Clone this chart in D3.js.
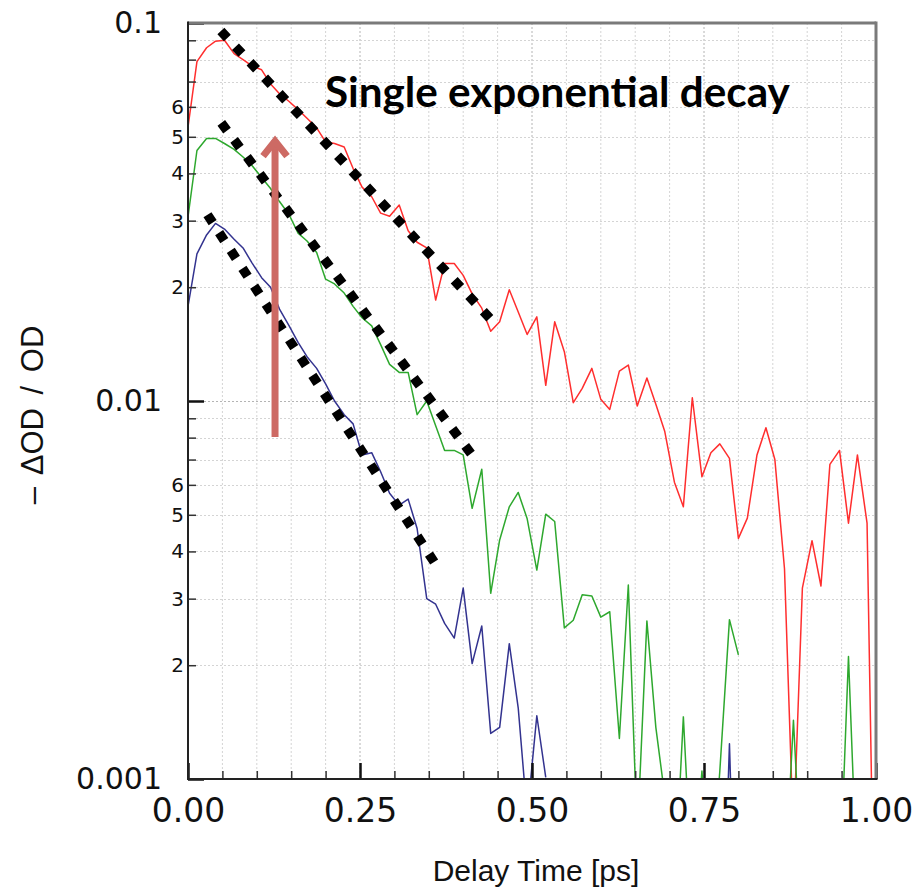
<!DOCTYPE html>
<html>
<head>
<meta charset="utf-8">
<script src="https://cdn.jsdelivr.net/npm/d3@7"></script>
<style>
  body { margin: 0; background: #ffffff; }
  svg { display: block; }
</style>
</head>
<body>
<svg id="chart" width="918" height="894"></svg>
<script>
// ---------------- data ----------------
const delayTimes = [
  0.000, 0.013, 0.027, 0.040, 0.053, 0.067, 0.080, 0.093, 0.107, 0.120,
  0.133, 0.147, 0.160, 0.173, 0.187, 0.200, 0.213, 0.227, 0.240, 0.253,
  0.267, 0.280, 0.293, 0.307, 0.320, 0.333, 0.347, 0.360, 0.373, 0.387,
  0.400, 0.413, 0.427, 0.440, 0.453, 0.467, 0.480, 0.493, 0.507, 0.520,
  0.533, 0.547, 0.560, 0.573, 0.587, 0.600, 0.613, 0.627, 0.640, 0.653,
  0.667, 0.680, 0.693, 0.707, 0.720, 0.733, 0.747, 0.760, 0.773, 0.787,
  0.800, 0.813, 0.827, 0.840, 0.853, 0.867, 0.880, 0.893, 0.907, 0.920,
  0.933, 0.947, 0.960, 0.973, 0.987, 1.000
];

const redSeries = [
  0.053, 0.079, 0.086, 0.0895, 0.090, 0.083, 0.080, 0.077, 0.0752, 0.069,
  0.065, 0.062, 0.059, 0.056, 0.0528, 0.0485, 0.048, 0.047, 0.0412, 0.0368,
  0.0347, 0.0314, 0.0308, 0.033, 0.0282, 0.0263, 0.0254, 0.0185, 0.0231, 0.0231,
  0.0215, 0.0192, 0.0176, 0.0153, 0.0162, 0.0197, 0.0172, 0.0150, 0.0167, 0.0110,
  0.0162, 0.0135, 0.0099, 0.0108, 0.0122, 0.0101, 0.0095, 0.0120, 0.01245, 0.0097,
  0.0115, 0.0098, 0.0083, 0.0061, 0.00525, 0.0102, 0.0063, 0.0073, 0.0077, 0.00705,
  0.00433, 0.0049, 0.0072, 0.0085, 0.0070, 0.0036, 0.0007, 0.0032, 0.00427, 0.00324,
  0.0068, 0.0074, 0.00475, 0.0072, 0.00475, 0.0002
];

const greenSeries = [
  0.0307, 0.046, 0.0495, 0.0495, 0.048, 0.0463, 0.0442, 0.042, 0.039, 0.0365,
  0.0337, 0.0311, 0.0278, 0.0265, 0.0247, 0.0210, 0.0204, 0.0193, 0.0178, 0.0166,
  0.0158, 0.0141, 0.0125, 0.0119, 0.0119, 0.0092, 0.0100, 0.0086, 0.0074, 0.0074,
  0.0072, 0.0052, 0.0066, 0.0031, 0.00429, 0.00525, 0.00573, 0.00488, 0.00357, 0.00502,
  0.0048, 0.00251, 0.00263, 0.00307, 0.00305, 0.00268, 0.00277, 0.00128, 0.00326, 0.0007,
  0.00262, 0.00137, 0.0009, 0.0005, 0.00146, 0.0005, 0.00105, 0.0005, 0.00105, 0.00264,
  0.00213, null, null, null, null, 0.0005, 0.00143, 0.0005, null, null,
  null, 0.0005, 0.00211, 0.0005, null, null
];

const blueSeries = [
  0.0178, 0.0245, 0.0275, 0.0295, 0.0285, 0.0268, 0.0254, 0.0232, 0.0212, 0.0200,
  0.0175, 0.0158, 0.0143, 0.0131, 0.0122, 0.0111, 0.0100, 0.0092, 0.0087, 0.0072,
  0.0073, 0.0065, 0.0057, 0.0053, 0.0055, 0.0046, 0.0030, 0.0029, 0.00258, 0.00236,
  0.0032, 0.00202, 0.00254, 0.00132, 0.00137, 0.00228, 0.00154, 0.0008, 0.00147, 0.00101,
  null, null, null, null, null, null, null, null, null, null,
  null, null, null, null, null, null, null, null, 0.0002, 0.00124,
  0.0002, null, null, null, null, null, null, null, null, null,
  null, null, null, null, null, null
];

const seriesColors = ["#ff2e2e", "#2ea82e", "#33338f"];

// single-exponential fit guides (start / end points)
const fitStartTimes  = [0.0478, 0.0484, 0.0283];
const fitEndTimes    = [0.4387, 0.4113, 0.3578];
const fitStartValues = [0.0952, 0.0544, 0.0311];
const fitEndValues   = [0.01655, 0.00726, 0.00375];

// arrow annotation
const arrowTime = 0.1265;
const arrowFromValue = 0.00803;
const arrowToValue = 0.0505;

// annotation text
const annotationText = "Single exponential decay";
const annotationTime = 0.199;
const annotationValue = 0.0599;

// axes
const xDomain = [0, 1];
const yDomain = [0.001, 0.1];
const xMajorTicks = [0, 0.25, 0.5, 0.75, 1.0];
const xMajorLabels = ["0.00", "0.25", "0.50", "0.75", "1.00"];
const xMinorTicks = [0.05, 0.10, 0.15, 0.20, 0.30, 0.35, 0.40, 0.45, 0.55, 0.60, 0.65, 0.70, 0.80, 0.85, 0.90, 0.95];
const yMajorTicks = [0.1, 0.01, 0.001];
const yMajorLabels = ["0.1", "0.01", "0.001"];
const yMinorDigits = [2, 3, 4, 5, 6, 7, 8, 9];
const yLabeledDigits = [2, 3, 4, 5, 6];
const yDecades = [0.001, 0.01];
const xTitle = "Delay Time [ps]";
const yTitle = "– ΔOD / OD";

// ---------------- layout ----------------
const W = 918, H = 894;
const L = 188, R = 876, T = 23, B = 779;

const svg = d3.select("#chart");
const x = d3.scaleLinear().domain(xDomain).range([L, R]);
const y = d3.scaleLog().domain(yDomain).range([B, T]);

const yMinorTicks = [];
yDecades.forEach(dec => yMinorDigits.forEach(d => yMinorTicks.push(dec * d)));

// ---------------- grid ----------------
const grid = svg.append("g");
const xGrid = xMinorTicks.concat([0.25, 0.5, 0.75]);
grid.selectAll("line.vx").data(xGrid).join("line")
  .attr("x1", d => x(d)).attr("x2", d => x(d))
  .attr("y1", T).attr("y2", B)
  .attr("stroke", d => xMajorTicks.includes(d) ? "#b4b4b4" : "#d4d4d4")
  .attr("stroke-width", 1)
  .attr("stroke-dasharray", "2,2");
const yGrid = yMinorTicks.concat([0.01]);
grid.selectAll("line.hy").data(yGrid).join("line")
  .attr("x1", L).attr("x2", R)
  .attr("y1", d => Math.round(y(d)) + 0.5).attr("y2", d => Math.round(y(d)) + 0.5)
  .attr("stroke", d => d === 0.01 ? "#b4b4b4" : "#d4d4d4")
  .attr("stroke-width", 1)
  .attr("stroke-dasharray", "2,2");

// ---------------- data lines ----------------
svg.append("clipPath").attr("id", "plotClip")
  .append("rect").attr("x", L).attr("y", T).attr("width", R - L).attr("height", B - T);

const lineGen = d3.line()
  .defined(d => d.v !== null)
  .x(d => x(d.t))
  .y(d => y(d.v));

const allSeries = [redSeries, greenSeries, blueSeries];
const plotG = svg.append("g").attr("clip-path", "url(#plotClip)");
allSeries.forEach((s, k) => {
  const pts = delayTimes.map((t, i) => ({ t: t, v: s[i] }));
  plotG.append("path")
    .attr("d", lineGen(pts))
    .attr("fill", "none")
    .attr("stroke", seriesColors[k])
    .attr("stroke-width", 1.5)
    .attr("stroke-linejoin", "round");
});

// ---------------- fit guides (square dotted) ----------------
const dot = 9.5, period = 21.5;
fitStartTimes.forEach((t0, k) => {
  const x0 = x(t0), y0 = y(fitStartValues[k]);
  const x1 = x(fitEndTimes[k]), y1 = y(fitEndValues[k]);
  const len = Math.hypot(x1 - x0, y1 - y0);
  const n = Math.round((len - dot) / period) + 1;
  const gap = (len - n * dot) / (n - 1);
  svg.append("line")
    .attr("x1", x0).attr("y1", y0).attr("x2", x1).attr("y2", y1)
    .attr("stroke", "#000")
    .attr("stroke-width", dot)
    .attr("stroke-linecap", "butt")
    .attr("stroke-dasharray", `${dot} ${gap}`);
});

// ---------------- arrow ----------------
const arrowColor = "#cd6a64";
const ax = x(arrowTime), ayTop = y(arrowToValue), ayBot = y(arrowFromValue);
const arrowG = svg.append("g");
arrowG.append("line")
  .attr("x1", ax).attr("x2", ax)
  .attr("y1", ayBot).attr("y2", ayTop + 5)
  .attr("stroke", arrowColor).attr("stroke-width", 7);
arrowG.append("path")
  .attr("d", `M${ax - 12},${ayTop + 21} L${ax},${ayTop + 6} L${ax + 12},${ayTop + 21}`)
  .attr("fill", "none")
  .attr("stroke", arrowColor).attr("stroke-width", 7)
  .attr("stroke-linejoin", "miter").attr("stroke-miterlimit", 10);

// ---------------- annotation text ----------------
const ann = svg.append("text")
  .attr("x", x(annotationTime))
  .attr("y", y(annotationValue))
  .attr("font-family", "Lato, 'Open Sans', sans-serif")
  .attr("font-weight", 700)
  .attr("font-size", 36)
  .attr("fill", "#000")
  .text(annotationText);
const annW = ann.node().getComputedTextLength();
ann.attr("font-size", 36 * 465 / annW);

// ---------------- axes ----------------
// left major
const yMajorAxis = d3.axisLeft(y)
  .tickValues(yMajorTicks)
  .tickSize(-16)
  .tickPadding(26)
  .tickFormat((d, i) => yMajorLabels[i]);
const gyMaj = svg.append("g").attr("transform", `translate(${L},0)`).call(yMajorAxis);
gyMaj.select(".domain").remove();
gyMaj.selectAll(".tick line").attr("stroke", "#111").attr("stroke-width", 2.5);
gyMaj.selectAll(".tick text")
  .attr("font-family", "'DejaVu Sans', Verdana, sans-serif")
  .attr("font-size", 30).attr("fill", "#111");

// left minor
const yMinorAxis = d3.axisLeft(y)
  .tickValues(yMinorTicks)
  .tickSize(-8)
  .tickPadding(4)
  .tickFormat(d => {
    const digit = Math.round(d / Math.pow(10, Math.floor(Math.log10(d) + 1e-9)));
    return yLabeledDigits.includes(digit) ? String(digit) : "";
  });
const gyMin = svg.append("g").attr("transform", `translate(${L},0)`).call(yMinorAxis);
gyMin.select(".domain").remove();
gyMin.selectAll(".tick line").attr("stroke", "#333").attr("stroke-width", 1.5);
gyMin.selectAll(".tick text")
  .attr("font-family", "'DejaVu Sans', Verdana, sans-serif")
  .attr("font-size", 20).attr("fill", "#111");

// bottom major
const xMajorAxis = d3.axisBottom(x)
  .tickValues(xMajorTicks)
  .tickSize(-16)
  .tickPadding(20)
  .tickFormat((d, i) => xMajorLabels[i]);
const gxMaj = svg.append("g").attr("transform", `translate(0,${B})`).call(xMajorAxis);
gxMaj.select(".domain").remove();
gxMaj.selectAll(".tick line").attr("stroke", "#111").attr("stroke-width", 2.5);
gxMaj.selectAll(".tick text")
  .attr("font-family", "'DejaVu Sans', Verdana, sans-serif")
  .attr("font-size", 33).attr("fill", "#111");

// bottom minor
const xMinorAxis = d3.axisBottom(x)
  .tickValues(xMinorTicks)
  .tickSize(-8)
  .tickFormat("");
const gxMin = svg.append("g").attr("transform", `translate(0,${B})`).call(xMinorAxis);
gxMin.select(".domain").remove();
gxMin.selectAll(".tick line").attr("stroke", "#333").attr("stroke-width", 1.5);

// frame
svg.append("line").attr("x1", L).attr("x2", R).attr("y1", T).attr("y2", T)
  .attr("stroke", "#7a7a7a").attr("stroke-width", 3);
svg.append("line").attr("x1", R).attr("x2", R).attr("y1", T - 1.5).attr("y2", B)
  .attr("stroke", "#7a7a7a").attr("stroke-width", 3);
svg.append("line").attr("x1", L).attr("x2", L).attr("y1", T - 1.5).attr("y2", B + 1)
  .attr("stroke", "#222").attr("stroke-width", 2);
svg.append("line").attr("x1", L - 1).attr("x2", R + 1.5).attr("y1", B).attr("y2", B)
  .attr("stroke", "#222").attr("stroke-width", 2);

// titles
svg.append("text")
  .attr("x", (L + R) / 2 + 4).attr("y", 881)
  .attr("text-anchor", "middle")
  .attr("font-family", "'Liberation Sans', Arial, sans-serif")
  .attr("font-size", 30).attr("fill", "#111")
  .text(xTitle);
svg.append("text")
  .attr("transform", "translate(43,415) rotate(-90)")
  .attr("text-anchor", "middle")
  .attr("font-family", "'Liberation Sans', Arial, sans-serif")
  .attr("font-size", 31).attr("fill", "#111")
  .attr("word-spacing", 5)
  .text(yTitle);
</script>
</body>
</html>
